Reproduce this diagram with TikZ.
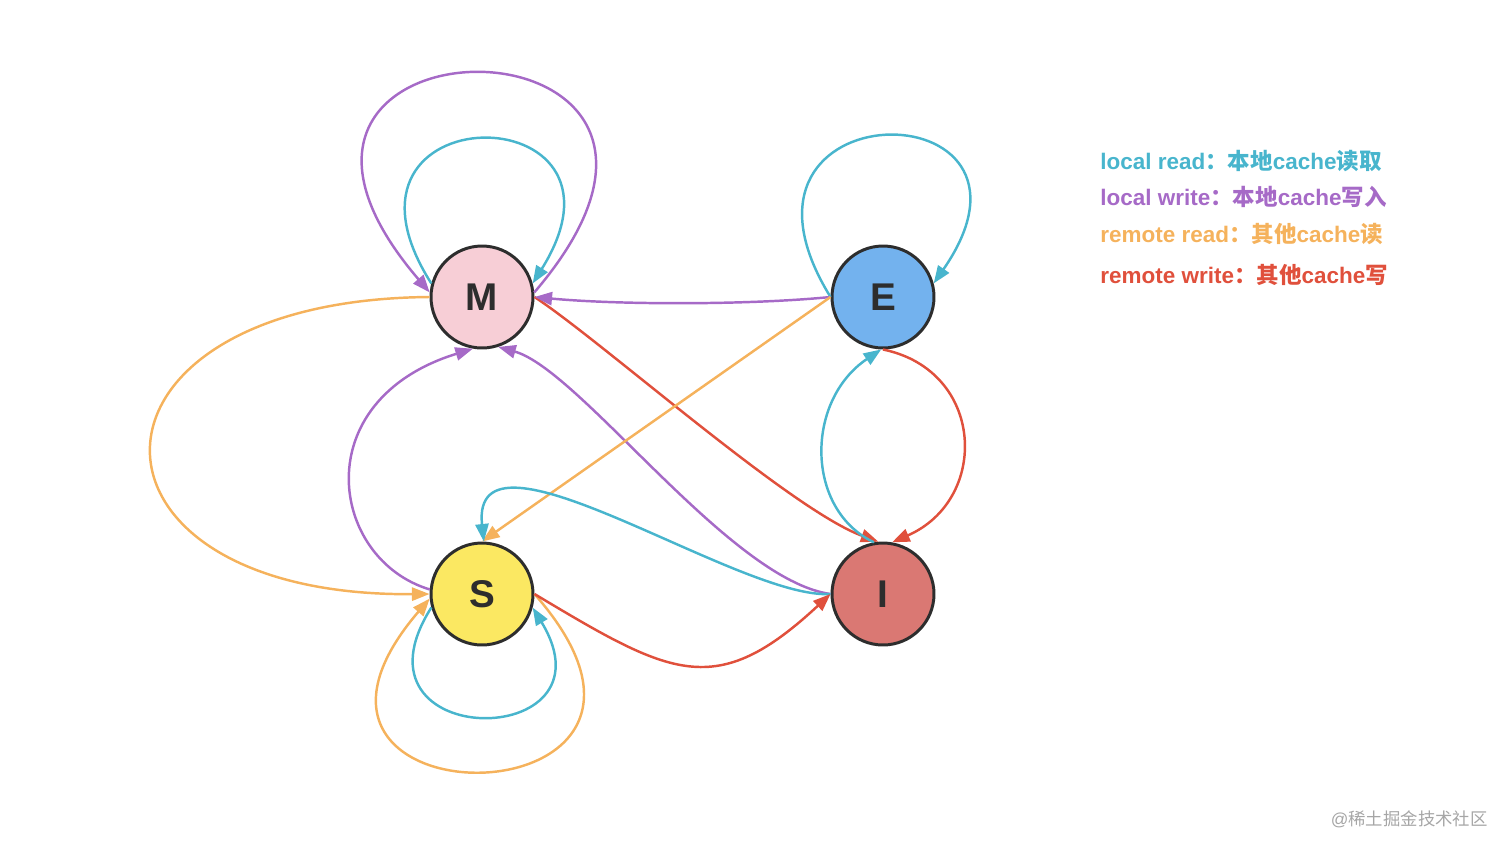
\documentclass[tikz,border=0pt]{standalone}
\usepackage{xcolor}
\usepackage{fontspec}
\setmainfont{Liberation Sans}
\newfontfamily\cjk{Noto Sans CJK SC}
\usetikzlibrary{arrows.meta}

\definecolor{lreadc}{RGB}{72,181,205}
\definecolor{lwritec}{RGB}{166,106,199}
\definecolor{rreadc}{RGB}{245,178,92}
\definecolor{rwritec}{RGB}{224,80,60}
\definecolor{mfill}{RGB}{247,206,214}
\definecolor{efill}{RGB}{115,178,238}
\definecolor{sfill}{RGB}{251,232,98}
\definecolor{ifill}{RGB}{218,120,115}
\definecolor{ink}{RGB}{45,45,45}
\newcommand{\zh}[1]{{\cjk #1}}

\begin{document}
\begin{tikzpicture}[x=0.02cm, y=-0.02cm, >={Triangle[length=10pt,width=7.5pt]},
  state/.style={circle, draw=ink, line width=1.7pt, minimum size=2.04cm, inner sep=0pt, text=ink, font=\fontsize{22}{22}\selectfont\bfseries},
  lread/.style={draw=lreadc, line width=1.4pt, ->},
  lwrite/.style={draw=lwritec, line width=1.4pt, ->},
  rread/.style={draw=rreadc, line width=1.4pt, ->},
  rwrite/.style={draw=rwritec, line width=1.4pt, ->},
  legend/.style={anchor=west, inner sep=0pt, font=\fontsize{12.8}{15}\selectfont\bfseries}]
  \useasboundingbox (0,0) rectangle (1512,853);

  \node[state, fill=mfill] (M) at (482,297) {M};
  \node[state, fill=efill] (E) at (883,297) {E};
  \node[state, fill=sfill] (S) at (482,594) {S};
  \node[state, fill=ifill] (I) at (883,594) {I};

  % self loops
  \draw[lwrite] (M.5) .. controls +(250,-292) and +(-250,-292) .. (M.175);
  \draw[lread] (M.165) .. controls +(-122,-192) and +(120,-192) .. (M.15);
  \draw[lread] (E.west) .. controls +(-131,-212) and +(137,-198) .. (E.15);
  \draw[lread] (S.195) .. controls +(-92,145) and +(88,145) .. (S.-15);
  \draw[rread] (S.east) .. controls +(205,233) and +(-200,233) .. (S.185);

  % transitions
  \draw[rread] (M.west) .. controls +(-370,3) and +(-370,3) .. (S.west);
  \draw[lwrite] (S.175) .. controls +(-100,-30) and +(-168,52) .. (M.-100);
  \draw[lwrite] (I.west) .. controls +(-101,-14) and +(82,23) .. (M.-72);
  \draw[rwrite] (M.east) .. controls +(66,43) and +(-88,-32) .. (I.95);
  \draw[lwrite] (E.west) .. controls +(-81,8) and +(86,8) .. (M.east);
  \draw[rread] (E.west) -- (S.north);
  \draw[lread] (I.100) .. controls +(-69,-33) and +(-76,51) .. (E.-92);
  \draw[rwrite] (E.south) .. controls +(102,21) and +(98,-43) .. (I.80);
  \draw[lread] (I.west) .. controls +(-91,6) and +(-14,-132) .. (S.88);
  \draw[rwrite] (S.east) .. controls +(137,82) and +(-115,107) .. (I.west);

  \node[legend, text=lreadc] (lr) at (1100,161) {local read\zh{：本地}cache\zh{读取}};
  \node[legend, text=lwritec] (lw) at (1100,197) {local write\zh{：本地}cache\zh{写入}};
  \node[legend, text=rreadc] (rr) at (1100,234) {remote read\zh{：其他}cache\zh{读}};
  \node[legend, text=rwritec] (rw) at (1100,275) {remote write\zh{：其他}cache\zh{写}};

  \node[anchor=east, inner sep=0pt, text=black!35, font=\fontsize{9.9}{12}\selectfont] (wm) at (1488,819) {@\zh{稀土掘金技术社区}};
\end{tikzpicture}
\end{document}
